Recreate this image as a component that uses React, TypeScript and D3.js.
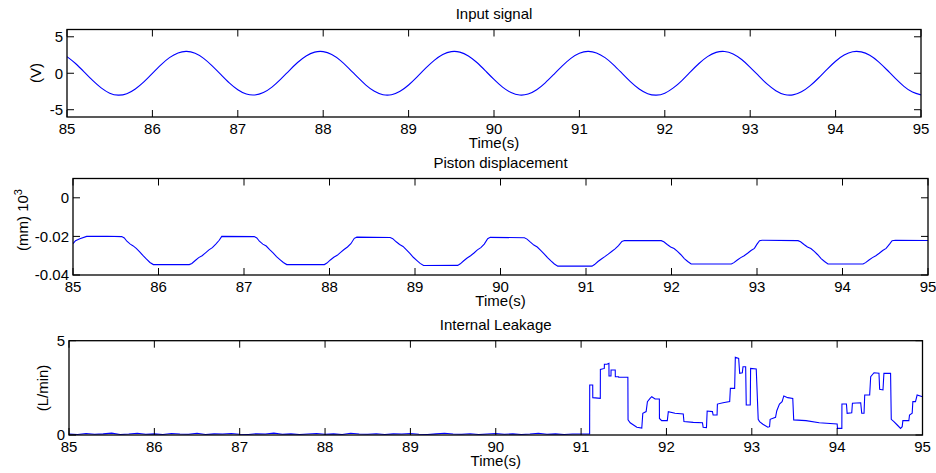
import React from "react";
import * as d3 from "d3";

// ---------- DATA ----------
const xTicks = [85, 86, 87, 88, 89, 90, 91, 92, 93, 94, 95];

// Input signal (V), sampled every 0.1 s from 85 to 95
const inputStart = 85;
const inputStep = 0.1;
const inputV = [
  2.28, 1.34, 0.19, -0.99, -2.01, -2.73, -3.0, -2.8, -2.15, -1.18,
  -0.01, 1.16, 2.14, 2.79, 3.0, 2.73, 2.04, 1.01, -0.16, -1.32,
  -2.26, -2.85, -2.98, -2.65, -1.91, -0.85, 0.34, 1.47, 2.37, 2.9,
  2.97, 2.57, 1.77, 0.68, -0.51, -1.62, -2.48, -2.94, -2.94, -2.47,
  -1.61, -0.5, 0.69, 1.77, 2.57, 2.97, 2.9, 2.37, 1.47, 0.33,
  -0.85, -1.91, -2.65, -2.99, -2.85, -2.26, -1.31, -0.16, 1.01, 2.04,
  2.73, 3.0, 2.79, 2.14, 1.16, -0.02, -1.18, -2.16, -2.8, -3.0,
  -2.73, -2.01, -1.0, 0.19, 1.34, 2.28, 2.86, 2.99, 2.64, 1.88,
  0.82, -0.37, -1.5, -2.39, -2.91, -2.97, -2.55, -1.74, -0.65, 0.54,
  1.65, 2.49, 2.95, 2.93, 2.46, 1.6, 0.48, -0.71, -1.79, -2.58, -2.97,
];
const inputYTicks = [-5, 0, 5];

// Piston displacement
const pistonT = [
  85.0, 85.03, 85.08, 85.16, 85.4, 85.57, 85.6, 85.63, 85.67, 85.7, 85.74, 85.78, 85.82, 85.86, 85.9, 85.94,
  86.36, 86.39, 86.43, 86.47, 86.51, 86.55, 86.59, 86.63, 86.67, 86.71, 86.74,
  87.12, 87.15, 87.18, 87.22, 87.26, 87.3, 87.34, 87.38, 87.42, 87.46, 87.5,
  87.94, 87.97, 88.01, 88.05, 88.09, 88.13, 88.17, 88.21, 88.25, 88.29, 88.32,
  88.71, 88.74, 88.78, 88.82, 88.86, 88.9, 88.94, 88.98, 89.02, 89.06, 89.1,
  89.5, 89.53, 89.57, 89.61, 89.65, 89.69, 89.73, 89.77, 89.81, 89.85, 89.88,
  90.28, 90.31, 90.35, 90.39, 90.43, 90.47, 90.51, 90.55, 90.59, 90.63, 90.67,
  91.07, 91.1, 91.14, 91.18, 91.22, 91.26, 91.3, 91.34, 91.38, 91.42, 91.45,
  91.88, 91.91, 91.95, 91.99, 92.03, 92.07, 92.11, 92.15, 92.19, 92.23,
  92.7, 92.73, 92.77, 92.81, 92.85, 92.89, 92.93, 92.97, 93.0, 93.03, 93.06,
  93.48, 93.51, 93.55, 93.59, 93.63, 93.67, 93.71, 93.75, 93.79, 93.83,
  94.24, 94.27, 94.31, 94.35, 94.39, 94.43, 94.47, 94.51, 94.55, 94.58, 94.62, 95.0,
];
const pistonV = [
  -0.0238, -0.0222, -0.0212, -0.02, -0.0199, -0.0201, -0.0208, -0.0225, -0.024, -0.0248, -0.0262, -0.028, -0.03, -0.0318, -0.0335, -0.0346,
  -0.0346, -0.034, -0.0325, -0.031, -0.03, -0.0285, -0.027, -0.0258, -0.024, -0.022, -0.02,
  -0.0201, -0.0208, -0.0225, -0.024, -0.025, -0.0268, -0.0285, -0.0305, -0.032, -0.0335, -0.0346,
  -0.0346, -0.0338, -0.0322, -0.0308, -0.0298, -0.0283, -0.0268, -0.0255, -0.0238, -0.021, -0.0204,
  -0.0206, -0.0212, -0.0228, -0.0242, -0.0252, -0.027, -0.0288, -0.0308, -0.0324, -0.034, -0.0351,
  -0.035, -0.0342, -0.0326, -0.0312, -0.03, -0.0286, -0.027, -0.0258, -0.024, -0.0212, -0.0205,
  -0.0207, -0.0214, -0.023, -0.0245, -0.0255, -0.0272, -0.029, -0.031, -0.0327, -0.0343, -0.0354,
  -0.0354, -0.0346, -0.033, -0.0317, -0.0305, -0.0292, -0.0278, -0.0265, -0.0248, -0.0226, -0.0221,
  -0.0222, -0.0228, -0.0242, -0.0255, -0.0263, -0.0278, -0.0295, -0.0315, -0.033, -0.0343,
  -0.0343, -0.0336, -0.0322, -0.031, -0.03, -0.0287, -0.0273, -0.0262, -0.024, -0.0222, -0.022,
  -0.0222, -0.0228, -0.0242, -0.0255, -0.0263, -0.0278, -0.0295, -0.0315, -0.033, -0.0343,
  -0.0343, -0.0336, -0.0322, -0.031, -0.03, -0.0287, -0.0273, -0.0262, -0.024, -0.0222, -0.022, -0.0221,
];
const pistonYTicks = [-0.04, -0.02, 0];

// Internal leakage: low-level part every 0.1 s from 85.0 to 91.0
const leakLowStart = 85;
const leakLowStep = 0.1;
const leakLowV = [
  0.05, 0.03, 0.08, 0.04, 0.06, 0.1, 0.03, 0.05, 0.09, 0.04,
  0.06, 0.03, 0.08, 0.05, 0.04, 0.09, 0.03, 0.06, 0.05, 0.08,
  0.04, 0.03, 0.07, 0.05, 0.1, 0.04, 0.06, 0.03, 0.05, 0.08,
  0.04, 0.06, 0.03, 0.09, 0.05, 0.04, 0.07, 0.03, 0.06, 0.05,
  0.08, 0.04, 0.03, 0.06, 0.09, 0.05, 0.04, 0.07, 0.03, 0.05,
  0.08, 0.04, 0.06, 0.03, 0.05, 0.09, 0.04, 0.06, 0.03, 0.05, 0.05,
];
// Leakage after onset
const leakT = [
  91.1, 91.101, 91.136, 91.137, 91.225, 91.226, 91.272, 91.273, 91.303, 91.326, 91.327, 91.35, 91.351, 91.4, 91.401,
  91.439, 91.44, 91.548, 91.55, 91.575, 91.614, 91.653, 91.711, 91.723, 91.762, 91.777, 91.808, 91.828, 91.867, 91.917,
  91.918, 91.944, 92.01, 92.022, 92.1, 92.197, 92.205, 92.314, 92.422, 92.43, 92.469, 92.477, 92.539, 92.547, 92.593,
  92.597, 92.663, 92.741, 92.749, 92.799, 92.807, 92.846, 92.858, 92.889, 92.897, 92.928, 92.935, 92.982, 92.986, 93.052,
  93.075, 93.091, 93.13, 93.188, 93.208, 93.215, 93.278, 93.293, 93.324, 93.355, 93.375, 93.421, 93.48, 93.491, 93.635,
  93.79, 94.0, 94.004, 94.055, 94.056, 94.109, 94.117, 94.171, 94.179, 94.276, 94.288, 94.315, 94.323, 94.381, 94.393,
  94.432, 94.49, 94.498, 94.537, 94.548, 94.626, 94.634, 94.665, 94.704, 94.743, 94.762, 94.77, 94.84, 94.848, 94.879,
  94.887, 94.918, 94.937, 95.0,
];
const leakV = [
  0.05, 2.65, 2.65, 1.98, 1.94, 3.48, 3.53, 3.75, 3.75, 3.8, 3.13, 3.13, 3.45, 3.45, 3.09,
  3.09, 3.06, 3.06, 0.8, 0.65, 0.53, 0.41, 0.37, 1.15, 1.24, 1.77, 1.94, 2.03, 1.91, 1.91,
  0.88, 0.76, 0.76, 1.24, 1.15, 1.11, 0.71, 0.67, 0.65, 0.41, 0.39, 1.27, 1.24, 1.06, 1.06,
  1.64, 1.71, 1.77, 2.47, 2.47, 4.12, 4.06, 3.27, 3.3, 3.62, 3.62, 1.59, 1.59, 3.53, 3.5,
  0.83, 0.71, 0.57, 0.41, 0.44, 0.83, 0.94, 1.29, 1.64, 1.77, 2.07, 1.98, 1.94, 0.8, 0.76,
  0.65, 0.58, 0.35, 0.35, 1.64, 1.64, 1.15, 1.18, 1.68, 1.71, 1.15, 1.15, 2.12, 2.12, 3.09,
  3.3, 3.27, 2.42, 2.39, 3.27, 3.27, 0.83, 0.71, 0.53, 0.35, 0.44, 0.76, 0.76, 1.06, 1.15,
  1.77, 1.77, 2.12, 2.03,
];
const leakYTicks = [0, 5];

// ---------- LAYOUT ----------
const W = 936;
const H = 473;
const FONT = "'Liberation Sans', Arial, sans-serif";
const FS = 15;
const TICK = 7;

type Panel = {
  id: string;
  left: number;
  right: number;
  top: number;
  bottom: number;
  yDomain: [number, number];
  yTicks: number[];
  title: string;
  pts: [number, number][];
  curve: d3.CurveFactory;
  yFmt: (v: number) => string;
};

const inputPts: [number, number][] = inputV.map((v, i) => [inputStart + i * inputStep, v]);
const pistonPts: [number, number][] = pistonT.map((t, i) => [t, pistonV[i]]);
const leakPts: [number, number][] = [
  ...leakLowV.map((v, i) => [leakLowStart + i * leakLowStep, v] as [number, number]),
  ...leakT.map((t, i) => [t, leakV[i]] as [number, number]),
];

const panels: Panel[] = [
  {
    id: "p1", left: 67, right: 921, top: 29.5, bottom: 117,
    yDomain: [-6, 6], yTicks: inputYTicks, title: "Input signal",
    pts: inputPts, curve: d3.curveNatural, yFmt: (v) => String(v),
  },
  {
    id: "p2", left: 73, right: 928, top: 178.5, bottom: 275,
    yDomain: [-0.04, 0.01], yTicks: pistonYTicks, title: "Piston displacement",
    pts: pistonPts, curve: d3.curveLinear, yFmt: (v) => (v === 0 ? "0" : v.toFixed(2)),
  },
  {
    id: "p3", left: 69, right: 922.5, top: 340.7, bottom: 435,
    yDomain: [0, 5], yTicks: leakYTicks, title: "Internal Leakage",
    pts: leakPts, curve: d3.curveLinear, yFmt: (v) => String(v),
  },
];

function PanelView({ p }: { p: Panel }) {
  const x = d3.scaleLinear().domain([85, 95]).range([p.left, p.right]);
  const y = d3.scaleLinear().domain(p.yDomain).range([p.bottom, p.top]);
  const line = d3
    .line<[number, number]>()
    .x((d) => x(d[0]))
    .y((d) => y(d[1]))
    .curve(p.curve);
  const cx = (p.left + p.right) / 2;
  return (
    <g>
      <defs>
        <clipPath id={`clip-${p.id}`}>
          <rect x={p.left} y={p.top} width={p.right - p.left} height={p.bottom - p.top} />
        </clipPath>
      </defs>
      <rect x={p.left} y={p.top} width={p.right - p.left} height={p.bottom - p.top} fill="#fff" />
      <path
        d={line(p.pts) || ""}
        fill="none"
        stroke="#0000ff"
        strokeWidth={1.1}
        clipPath={`url(#clip-${p.id})`}
      />
      {/* box */}
      <rect
        x={p.left}
        y={p.top}
        width={p.right - p.left}
        height={p.bottom - p.top}
        fill="none"
        stroke="#000"
        strokeWidth={1.3}
      />
      {/* x ticks */}
      {xTicks.map((t) => (
        <g key={`xt${t}`}>
          <line x1={x(t)} x2={x(t)} y1={p.bottom} y2={p.bottom - TICK} stroke="#000" strokeWidth={1} />
          <line x1={x(t)} x2={x(t)} y1={p.top} y2={p.top + TICK} stroke="#000" strokeWidth={1} />
          <text x={x(t)} y={p.bottom + 17} textAnchor="middle" fontSize={FS} fontFamily={FONT} fill="#000">
            {t}
          </text>
        </g>
      ))}
      {/* y ticks */}
      {p.yTicks.map((v) => (
        <g key={`yt${v}`}>
          <line x1={p.left} x2={p.left + TICK} y1={y(v)} y2={y(v)} stroke="#000" strokeWidth={1} />
          <line x1={p.right} x2={p.right - TICK} y1={y(v)} y2={y(v)} stroke="#000" strokeWidth={1} />
          <text
            x={p.left - 4}
            y={y(v)}
            dy="0.36em"
            textAnchor="end"
            fontSize={FS}
            fontFamily={FONT}
            fill="#000"
          >
            {p.yFmt(v)}
          </text>
        </g>
      ))}
      {/* title */}
      <text x={cx} y={p.top - 11} textAnchor="middle" fontSize={FS} fontFamily={FONT} fill="#000">
        {p.title}
      </text>
      {/* x label */}
      <text x={cx} y={p.bottom + 31} textAnchor="middle" fontSize={FS} fontFamily={FONT} fill="#000">
        Time(s)
      </text>
    </g>
  );
}

export default function App() {
  return (
    <svg
      width={W}
      height={H}
      viewBox={`0 0 ${W} ${H}`}
      style={{ position: "absolute", left: 0, top: 0, background: "#fff" }}
    >
      <rect x={0} y={0} width={W} height={H} fill="#fff" />
      {panels.map((p) => (
        <PanelView key={p.id} p={p} />
      ))}
      {/* y labels */}
      <text
        transform={`translate(41,73) rotate(-90)`}
        textAnchor="middle"
        fontSize={FS}
        fontFamily={FONT}
        fill="#000"
      >
        (V)
      </text>
      <text
        transform={`translate(28,220) rotate(-90)`}
        textAnchor="middle"
        fontSize={FS}
        fontFamily={FONT}
        fill="#000"
      >
        <tspan>(mm) 10</tspan>
        <tspan fontSize={11} dy={-6}>3</tspan>
      </text>
      <text
        transform={`translate(48,388) rotate(-90)`}
        textAnchor="middle"
        fontSize={FS}
        fontFamily={FONT}
        fill="#000"
      >
        (L/min)
      </text>
    </svg>
  );
}
